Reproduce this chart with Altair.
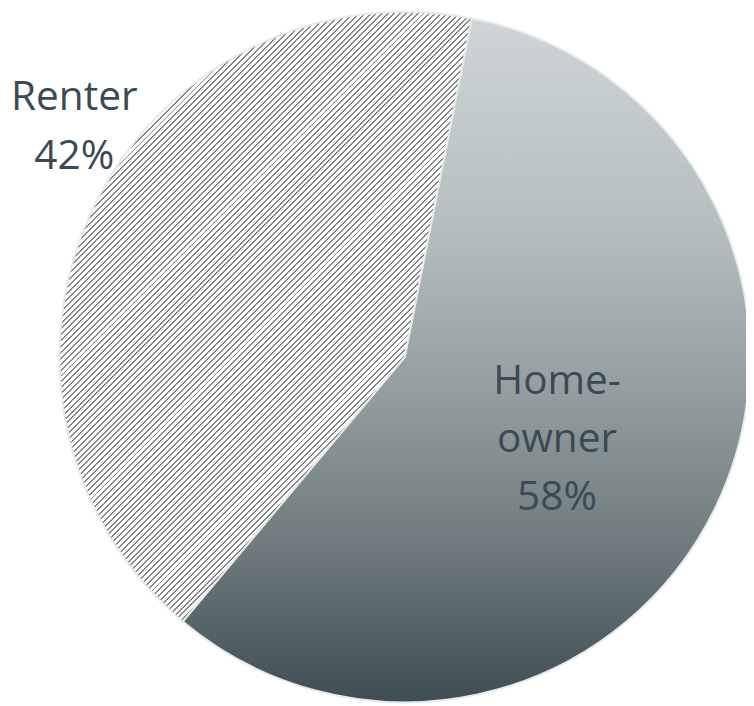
import math
import altair as alt
import pandas as pd

# ---- data ----
categories = ["Home-owner", "Renter"]
shares = [58, 42]
label_lines = [["Home-", "owner", "58%"], ["Renter", "42%"]]

df = pd.DataFrame({
    "category": categories,
    "share": shares,
    "label": ["\n".join(l) for l in label_lines],
})

# ---- geometry / style ----
CX, CY, R = 401, 349, 349
START_DEG = 11.2
start = math.radians(START_DEG)
theta_scale = alt.Scale(domain=[0, 100], range=[start, start + 2 * math.pi])

# vertical gradient for homeowner slice
home_grad = {
    "gradient": "linear",
    "x1": 0, "y1": 0, "x2": 0, "y2": 1,
    "stops": [
        {"offset": 0.0, "color": "#cfd5d7"},
        {"offset": 0.3, "color": "#b6bec0"},
        {"offset": 0.55, "color": "#939d9f"},
        {"offset": 0.78, "color": "#6d797c"},
        {"offset": 1.0, "color": "#3f4d54"},
    ],
}

# striped (hatched) gradient for renter slice
renter_start = math.radians(START_DEG) + 2 * math.pi * shares[0] / 100
w = R * (1 + math.sin(start))
h = R * (1 - math.cos(renter_start))
period_px = 4.2
dark_px = 1.4
total_px = (w * w + h * h) / h / math.sqrt(2)
n = int(total_px / period_px)
stops = []
for i in range(n):
    t0 = i / n
    td = t0 + (dark_px / period_px) / n
    t1 = (i + 1) / n
    stops += [
        {"offset": round(t0, 5), "color": "#858585"},
        {"offset": round(td, 5), "color": "#858585"},
        {"offset": round(td, 5), "color": "#ffffff"},
        {"offset": round(t1, 5), "color": "#ffffff"},
    ]
hatch_grad = {
    "gradient": "linear",
    "x1": 0, "y1": 0, "x2": round(w / h, 4), "y2": 1,
    "stops": stops,
}

base = alt.Chart(df).transform_stack(
    stack="share", groupby=[], as_=["s0", "s1"],
    sort=[alt.SortField("category", order="ascending")],
)

def arc_layer(cat, fill):
    return base.transform_filter(alt.datum.category == cat).mark_arc(
        radius=R, fill=fill, stroke="#e6eaeb", strokeWidth=2
    ).encode(
        theta=alt.Theta("s0:Q", scale=theta_scale),
        theta2="s1:Q",
        x=alt.value(CX),
        y=alt.value(CY),
    )

def text_layer(cat, x, y, lh):
    return base.transform_filter(alt.datum.category == cat).mark_text(
        font="Open Sans", fontSize=41, color="#3b4a55", align="center",
        baseline="alphabetic", lineBreak="\n", lineHeight=lh,
    ).encode(text="label:N", x=alt.value(x), y=alt.value(y))

chart = alt.layer(
    arc_layer("Home-owner", home_grad),
    arc_layer("Renter", hatch_grad),
    text_layer("Home-owner", 555, 386, 59),
    text_layer("Renter", 67, 99, 60),
).properties(
    width=746, height=698,
    autosize=alt.AutoSizeParams(type="none"),
    padding=0,
).configure_view(stroke=None)

chart.save("out.html", embed_options={"renderer": "svg", "actions": False})
